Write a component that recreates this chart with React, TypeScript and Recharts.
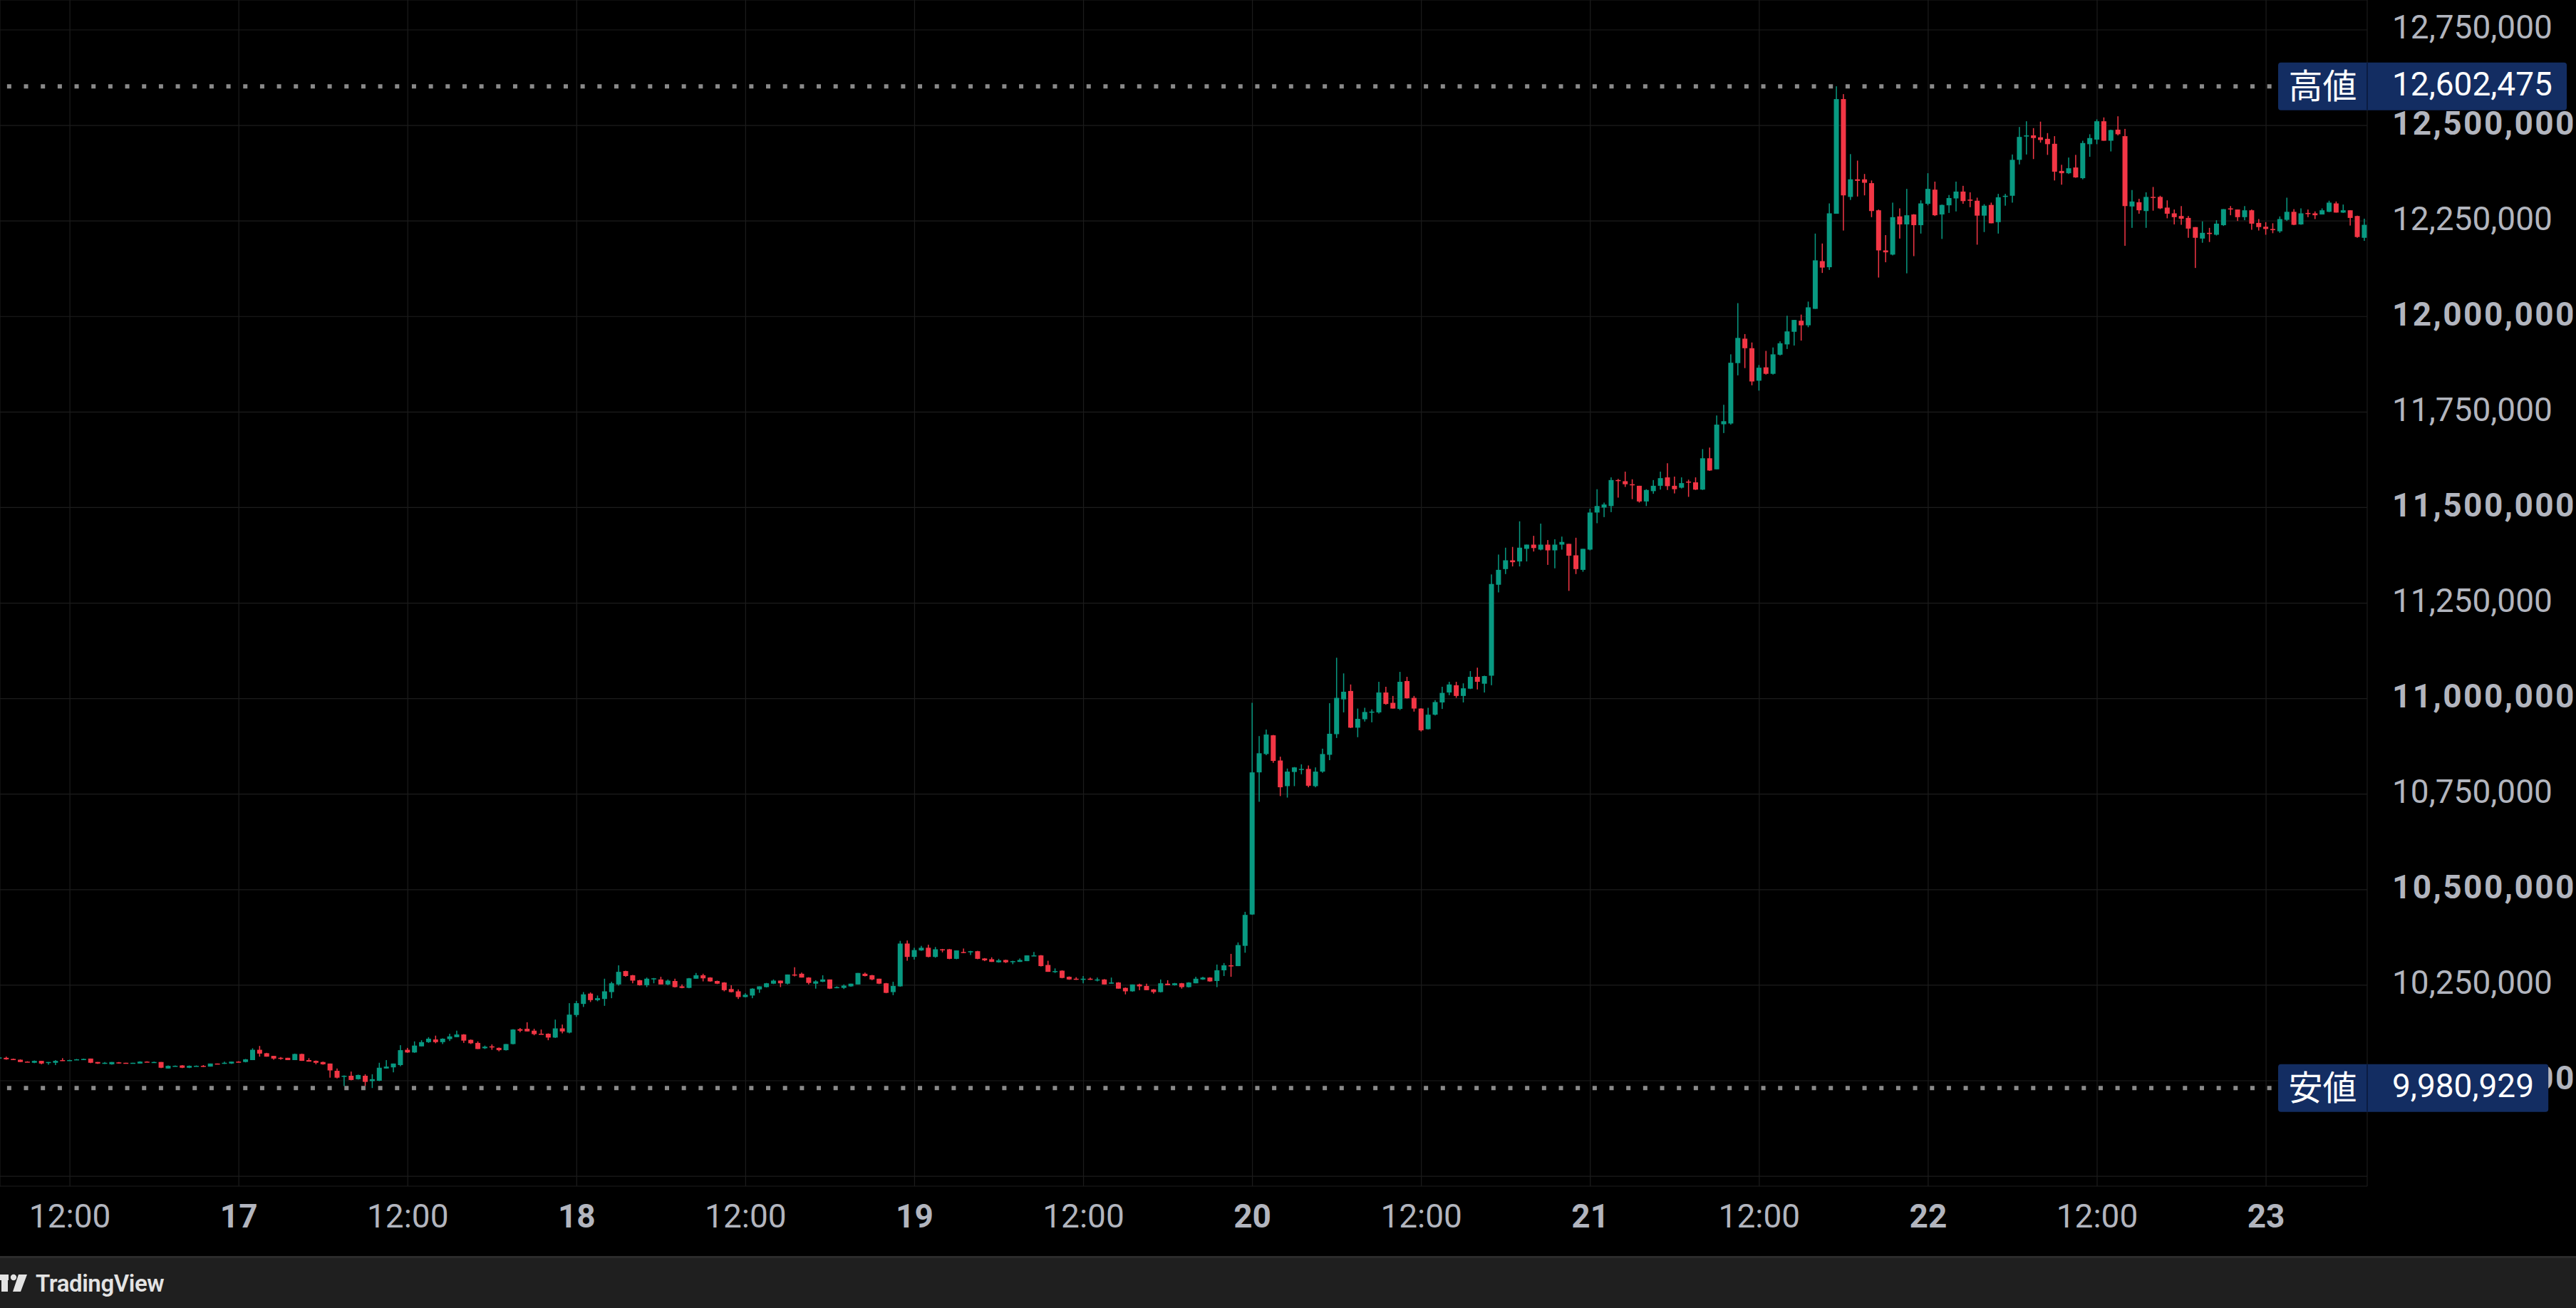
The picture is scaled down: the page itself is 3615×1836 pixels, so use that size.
import React from 'react';
import { ComposedChart, Bar, XAxis, YAxis, CartesianGrid, ReferenceLine } from 'recharts';

// 30-minute candles, index 0 = 16th 07:00 (values in thousands of yen)
const opens = [
  10058,10060,10057,10055,10050,10047,10052,10047,10047,10054,
  10052,10055,10054,10058,10049,10045,10043,10048,10047,10045,
  10045,10050,10047,10049,10032,10038,10040,10034,10038,10039,
  10037,10045,10045,10045,10050,10049,10054,10081,10072,10065,
  10060,10060,10054,10070,10054,10052,10049,10045,10026,10012,
  10013,10004,10013,9999,10000,10032,10035,10041,10081,10074,
  10090,10101,10108,10101,10109,10114,10121,10107,10099,10085,
  10090,10086,10080,10096,10135,10136,10131,10123,10123,10113,
  10137,10126,10172,10201,10228,10211,10214,10232,10252,10287,
  10276,10263,10250,10267,10265,10252,10261,10247,10243,10267,
  10276,10270,10261,10257,10240,10234,10219,10223,10239,10245,
  10254,10262,10254,10278,10280,10270,10254,10259,10265,10244,
  10243,10247,10252,10280,10276,10267,10255,10232,10247,10359,
  10324,10341,10348,10324,10344,10344,10319,10337,10336,10339,
  10320,10318,10310,10316,10312,10311,10313,10326,10328,10303,
  10286,10288,10272,10267,10264,10267,10264,10265,10254,10257,
  10243,10234,10252,10248,10239,10232,10254,10250,10255,10245,
  10255,10265,10270,10261,10289,10302,10300,10353,10435,10807,
  10855,10904,10838,10771,10808,10814,10816,10771,10809,10853,
  10907,10998,11020,10924,10946,10964,10964,11016,10989,10973,
  11046,11002,10974,10920,10958,10990,11016,11035,11007,11026,
  11057,11039,11060,11298,11339,11362,11359,11392,11403,11390,
  11403,11388,11403,11405,11375,11337,11390,11487,11500,11504,
  11572,11569,11561,11557,11516,11543,11557,11579,11557,11552,
  11568,11566,11547,11629,11600,11718,11720,11878,11942,11917,
  11832,11867,11850,11900,11927,11960,11989,11977,12020,12145,
  12129,12269,12569,12313,12359,12359,12349,12278,12173,12162,
  12262,12241,12267,12239,12295,12332,12267,12291,12309,12327,
  12306,12303,12264,12292,12247,12313,12316,12410,12471,12474,
  12469,12465,12452,12381,12375,12390,12362,12451,12463,12511,
  12460,12489,12472,12288,12299,12276,12313,12313,12285,12270,
  12263,12258,12234,12204,12219,12214,12239,12283,12280,12260,
  12278,12245,12235,12229,12223,12253,12274,12241,12271,12270,
  12267,12274,12296,12272,12278,12263,12206,
];

const highs = [
  10062,10063,10058,10056,10051,10053,10052,10049,10054,10059,
  10055,10057,10058,10058,10049,10049,10049,10049,10047,10047,
  10051,10051,10050,10049,10040,10040,10041,10040,10040,10041,
  10045,10045,10050,10050,10051,10057,10085,10091,10073,10065,
  10062,10060,10071,10071,10059,10053,10050,10045,10032,10014,
  10024,10016,10017,10017,10047,10054,10045,10093,10086,10103,
  10106,10114,10118,10111,10123,10131,10122,10108,10103,10092,
  10095,10087,10096,10135,10138,10153,10136,10134,10124,10160,
  10147,10203,10209,10232,10231,10223,10267,10259,10302,10288,
  10277,10264,10270,10269,10272,10265,10267,10252,10269,10282,
  10280,10271,10262,10258,10250,10239,10229,10242,10247,10256,
  10265,10262,10278,10297,10283,10271,10263,10276,10265,10247,
  10252,10254,10282,10283,10277,10267,10256,10259,10366,10367,
  10348,10353,10356,10350,10345,10345,10341,10346,10340,10340,
  10321,10323,10319,10317,10314,10320,10328,10337,10329,10314,
  10294,10289,10273,10271,10274,10270,10270,10266,10270,10258,
  10244,10252,10254,10254,10240,10265,10263,10256,10256,10258,
  10272,10272,10271,10304,10308,10332,10362,10442,10989,10902,
  10919,10905,10848,10817,10821,10828,10825,10820,10869,10988,
  11107,11066,11037,10974,10976,10972,11044,11031,11007,11070,
  11057,11007,10975,10976,10996,11031,11044,11044,11040,11072,
  11081,11060,11325,11377,11395,11397,11464,11403,11426,11458,
  11415,11417,11424,11405,11421,11392,11497,11548,11513,11579,
  11575,11594,11574,11557,11548,11572,11594,11616,11581,11579,
  11573,11579,11653,11657,11741,11769,11901,12035,11954,11932,
  11873,11910,11919,11935,12002,11991,12005,12039,12217,12191,
  12296,12602.475,12582,12425,12408,12373,12356,12280,12213,12298,
  12283,12334,12268,12304,12375,12353,12293,12318,12353,12342,
  12325,12311,12294,12298,12321,12321,12424,12496,12511,12493,
  12510,12480,12472,12397,12416,12423,12460,12477,12516,12521,
  12489,12524,12491,12331,12308,12325,12339,12316,12304,12280,
  12289,12263,12234,12249,12232,12252,12281,12289,12280,12289,
  12280,12255,12247,12244,12262,12311,12281,12283,12280,12275,
  12283,12303,12301,12293,12278,12264,12256,
];

const lows = [
  10058,10055,10054,10049,10049,10046,10043,10042,10041,10052,
  10052,10055,10054,10046,10044,10044,10042,10045,10045,10045,
  10045,10049,10047,10033,10032,10037,10033,10033,10037,10036,
  10037,10043,10044,10044,10048,10048,10054,10063,10063,10055,
  10055,10054,10054,10052,10050,10043,10042,10008,10006,9986,
  10001,10003,9986,9980.929,9999,10032,10022,10038,10073,10073,
  10090,10099,10098,10096,10104,10114,10099,10096,10083,10083,
  10081,10077,10079,10095,10127,10129,10119,10121,10106,10112,
  10124,10124,10167,10193,10206,10208,10196,10216,10249,10272,
  10255,10249,10245,10255,10252,10250,10244,10242,10242,10267,
  10260,10259,10253,10234,10231,10214,10218,10216,10230,10244,
  10253,10245,10252,10273,10270,10252,10241,10258,10240,10242,
  10240,10246,10252,10273,10263,10253,10229,10224,10246,10314,
  10317,10340,10323,10322,10336,10318,10318,10334,10329,10318,
  10313,10311,10309,10308,10305,10311,10313,10326,10299,10285,
  10282,10268,10264,10264,10255,10264,10260,10252,10254,10241,
  10226,10233,10237,10237,10228,10231,10250,10249,10241,10244,
  10255,10264,10259,10245,10274,10272,10300,10335,10434,10730,
  10852,10832,10745,10741,10771,10802,10768,10768,10806,10839,
  10897,10964,10923,10899,10940,10938,10961,10984,10974,10970,
  11000,10966,10914,10919,10956,10973,11009,11002,10990,11025,
  11024,11016,11035,11278,11326,11346,11346,11359,11385,11388,
  11350,11341,11390,11282,11326,11332,11388,11459,11475,11488,
  11526,11554,11522,11513,11504,11536,11547,11546,11537,11550,
  11528,11546,11546,11596,11600,11695,11717,11846,11865,11820,
  11806,11848,11848,11898,11915,11924,11937,11972,12020,12114,
  12122,12269,12225,12305,12314,12317,12260,12102,12142,12160,
  12204,12113,12158,12217,12291,12263,12203,12271,12275,12295,
  12286,12188,12221,12244,12217,12290,12298,12398,12424,12412,
  12455,12423,12356,12345,12373,12363,12359,12418,12451,12460,
  12432,12474,12185,12232,12269,12232,12277,12281,12257,12241,
  12240,12206,12127,12193,12195,12212,12237,12265,12250,12252,
  12227,12225,12214,12218,12219,12250,12239,12240,12260,12255,
  12267,12273,12272,12271,12238,12206,12198,
];

const closes = [
  10061,10056,10054,10049,10049,10052,10045,10049,10052,10052,
  10054,10056,10057,10047,10045,10047,10049,10046,10045,10047,
  10050,10049,10049,10034,10039,10039,10034,10039,10039,10037,
  10045,10044,10047,10050,10049,10056,10081,10071,10063,10058,
  10058,10054,10070,10052,10050,10047,10043,10027,10008,10013,
  10002,10015,9997,10004,10034,10037,10045,10080,10074,10092,
  10101,10110,10101,10110,10116,10121,10105,10098,10083,10089,
  10087,10080,10096,10134,10131,10129,10122,10122,10113,10137,
  10129,10173,10203,10226,10211,10216,10234,10255,10285,10274,
  10262,10250,10267,10268,10252,10262,10245,10243,10268,10276,
  10268,10260,10254,10237,10232,10219,10225,10241,10247,10255,
  10262,10255,10278,10277,10270,10256,10260,10265,10241,10245,
  10249,10254,10282,10274,10265,10254,10230,10248,10359,10324,
  10342,10348,10324,10344,10342,10319,10341,10335,10339,10319,
  10315,10311,10315,10310,10313,10316,10328,10328,10300,10285,
  10287,10269,10265,10265,10267,10265,10265,10252,10257,10241,
  10234,10252,10247,10237,10232,10255,10250,10255,10245,10257,
  10267,10270,10260,10289,10302,10301,10355,10434,10807,10857,
  10906,10837,10768,10809,10820,10816,10772,10809,10855,10908,
  11002,11018,10924,10947,10965,10966,11016,10986,10974,11044,
  11001,10974,10917,10958,10991,11015,11037,11007,11027,11057,
  11044,11059,11300,11337,11362,11357,11395,11403,11394,11403,
  11388,11403,11410,11374,11339,11392,11487,11504,11508,11572,
  11570,11561,11559,11516,11546,11557,11577,11556,11548,11564,
  11567,11547,11629,11597,11717,11726,11879,11944,11917,11830,
  11866,11850,11901,11930,11961,11991,11977,12024,12147,12128,
  12270,12569,12317,12359,12355,12350,12276,12173,12168,12260,
  12241,12265,12239,12296,12334,12265,12292,12310,12327,12302,
  12303,12264,12290,12244,12312,12316,12410,12470,12474,12467,
  12462,12451,12379,12375,12388,12364,12454,12467,12511,12460,
  12488,12477,12289,12301,12278,12313,12311,12283,12269,12260,
  12256,12230,12206,12219,12216,12243,12281,12280,12260,12278,
  12243,12234,12229,12226,12255,12274,12240,12270,12268,12265,
  12278,12298,12272,12278,12258,12208,12240,
];

// x-axis: candle index of each label
const timeTickIndex = [10, 34, 58, 82, 106, 130, 154, 178, 202, 226, 250, 274, 298, 322];
const timeTickLabels = ['12:00', '17', '12:00', '18', '12:00', '19', '12:00', '20', '12:00', '21', '12:00', '22', '12:00', '23'];

const priceTicks = [
  9750000, 10000000, 10250000, 10500000, 10750000, 11000000, 11250000,
  11500000, 11750000, 12000000, 12250000, 12500000, 12750000,
];

const highLabel = '高値';
const lowLabel = '安値';

// ---- layout / style ----
const WIDTH = 3615;
const CHART_H = 1763;
const AXIS_W = 293;
const XAXIS_H = 98;
const X_DOMAIN: [number, number] = [0.07, 336.37];
const Y_DOMAIN: [number, number] = [9724048, 12828306];
const UP = '#089981';
const DOWN = '#f23645';
const TEXT = '#b2b5be';
const GRID = '#1c1c1c';
const FONT = 'Roboto, "Noto Sans", sans-serif';
const CJK = '"Noto Sans CJK JP", "Noto Sans CJK SC", sans-serif';
const FS = 46;

const toYen = (k: number) => Math.round(k * 1000);

const data = opens.map((o, i) => {
  const open = toYen(o);
  const high = toYen(highs[i]);
  const low = toYen(lows[i]);
  const close = toYen(closes[i]);
  return { i, open, high, low, close, range: [low, high] };
});

const maxHigh = Math.max(...data.map((d) => d.high));
const minLow = Math.min(...data.map((d) => d.low));

const fmt = (v: number) => v.toLocaleString('en-US');

const Candle = (props: any) => {
  const { x, y, width, height, payload } = props;
  if (!payload || height == null) return <g />;
  const { open, close, high, low } = payload;
  const color = close >= open ? UP : DOWN;
  const k = high > low ? height / (high - low) : 0;
  const yO = y + (high - open) * k;
  const yC = y + (high - close) * k;
  const top = Math.min(yO, yC);
  const bh = Math.max(Math.abs(yO - yC), 1.5);
  const cx = x + width / 2;
  return (
    <g>
      <rect x={cx - 0.75} y={y} width={1.5} height={Math.max(height, 1)} fill={color} />
      <rect x={cx - 3.5} y={top} width={7} height={bh} fill={color} />
    </g>
  );
};

const PriceTick = (props: any) => {
  const { x, y, payload } = props;
  const v = payload.value;
  if (v === priceTicks[0]) return <g />;
  const major = v % 500000 === 0;
  return (
    <text
      x={x}
      y={y}
      dy="0.27em"
      textAnchor="start"
      fill={TEXT}
      fontSize={FS}
      fontFamily={FONT}
      fontWeight={major ? 700 : 400}
      letterSpacing={major ? 2.4 : 0}
    >
      {fmt(v)}
    </text>
  );
};

const TimeTick = (props: any) => {
  const { x, y, payload } = props;
  const idx = timeTickIndex.indexOf(payload.value);
  const label = idx >= 0 ? timeTickLabels[idx] : '';
  const isDay = !label.includes(':');
  return (
    <text
      x={x}
      y={y}
      dy="0.35em"
      textAnchor="middle"
      fill={TEXT}
      fontSize={FS}
      fontFamily={FONT}
      fontWeight={isDay ? 700 : 400}
    >
      {label}
    </text>
  );
};

const textWidth = (s: string) => {
  let w = 0;
  for (const ch of s) w += ch === ',' ? 0.2 * FS : 0.5615 * FS;
  return w;
};

const makeTag = (name: string, value: number) => (props: any) => {
  const vb = props.viewBox || {};
  const edge = (vb.x || 0) + (vb.width || 0);
  const yy = vb.y || 0;
  const labelW = 125;
  const h = 67;
  const txt = fmt(value);
  const valueW = 35 + textWidth(txt) + 20;
  return (
    <g>
      <rect x={edge - labelW} y={yy - h / 2} width={labelW + valueW} height={h} rx={4} fill="#132d62" />
      <rect x={edge - 1} y={yy - h / 2} width={2} height={h} fill="#0b1c42" />
      <text
        x={edge - labelW / 2}
        y={yy}
        dy="0.36em"
        textAnchor="middle"
        fill="#ffffff"
        fontSize={48}
        fontFamily={CJK}
      >
        {name}
      </text>
      <text x={edge + 35} y={yy} dy="0.27em" textAnchor="start" fill="#ffffff" fontSize={FS} fontFamily={FONT}>
        {txt}
      </text>
    </g>
  );
};

const Logo = () => (
  <div style={{ position: 'absolute', left: 0, top: 0, height: '100%', display: 'flex', alignItems: 'center' }}>
    <svg width={48} height={30} viewBox="0 0 48 30" style={{ marginLeft: -6 }}>
      <rect x={0} y={3} width={18} height={8} fill="#e3e3e3" />
      <rect x={8} y={3} width={9} height={24} fill="#e3e3e3" />
      <circle cx={25} cy={7} r={4.2} fill="#e3e3e3" />
      <polygon points="32,3 44,3 35,27 24,27" fill="#e3e3e3" />
    </svg>
    <span
      style={{
        marginLeft: 8,
        color: '#e3e3e3',
        fontFamily: FONT,
        fontSize: 33,
        fontWeight: 600,
        letterSpacing: -0.4,
      }}
    >
      TradingView
    </span>
  </div>
);

const HiddenAxes = () => null;

export default function App() {
  const layer: React.CSSProperties = { position: 'absolute', left: 0, top: 0 };
  return (
    <div style={{ position: 'absolute', left: 0, top: 0, width: WIDTH, height: 1836, background: '#000', overflow: 'hidden' }}>
      <div style={layer}>
        <ComposedChart
          width={WIDTH}
          height={CHART_H}
          data={data}
          margin={{ top: 0, right: 0, bottom: 0, left: 0 }}
        >
          <CartesianGrid stroke={GRID} strokeWidth={1.2} />
          <XAxis
            dataKey="i"
            type="number"
            domain={X_DOMAIN}
            allowDataOverflow
            ticks={timeTickIndex}
            interval={0}
            height={XAXIS_H}
            axisLine={false}
            tickLine={false}
            tickSize={0}
            tickMargin={42}
            tick={<TimeTick />}
          />
          <YAxis
            orientation="right"
            type="number"
            domain={Y_DOMAIN}
            allowDataOverflow
            ticks={priceTicks}
            interval={0}
            width={AXIS_W}
            axisLine={false}
            tickLine={false}
            tickSize={0}
            tickMargin={35}
            tick={<PriceTick />}
          />
          <Bar dataKey="range" barSize={7} shape={<Candle />} isAnimationActive={false} />
          <ReferenceLine y={maxHigh} stroke="#8a8a8a" strokeWidth={6} strokeDasharray="6 17.67" strokeDashoffset={7.67} />
          <ReferenceLine y={minLow} stroke="#8a8a8a" strokeWidth={6} strokeDasharray="6 17.67" strokeDashoffset={7.67} />
        </ComposedChart>
      </div>
      {/* overlay with the same scales: high / low tags drawn above the axis labels */}
      <div style={layer}>
        <ComposedChart
          width={WIDTH}
          height={CHART_H}
          data={data}
          margin={{ top: 0, right: 0, bottom: 0, left: 0 }}
        >
          <XAxis
            dataKey="i"
            type="number"
            domain={X_DOMAIN}
            allowDataOverflow
            ticks={timeTickIndex}
            height={XAXIS_H}
            axisLine={false}
            tickLine={false}
            tick={false}
          />
          <YAxis
            orientation="right"
            type="number"
            domain={Y_DOMAIN}
            allowDataOverflow
            ticks={priceTicks}
            width={AXIS_W}
            axisLine={false}
            tickLine={false}
            tick={false}
          />
          <ReferenceLine y={maxHigh} stroke="none" label={makeTag(highLabel, maxHigh)} />
          <ReferenceLine y={minLow} stroke="none" label={makeTag(lowLabel, minLow)} />
        </ComposedChart>
      </div>
      <div
        style={{
          position: 'absolute',
          left: 0,
          top: CHART_H,
          width: WIDTH,
          height: 1836 - CHART_H,
          background: '#1f1f1f',
          borderTop: '3px solid #2c2c2c',
          boxSizing: 'border-box',
        }}
      >
        <Logo />
      </div>
    </div>
  );
}
